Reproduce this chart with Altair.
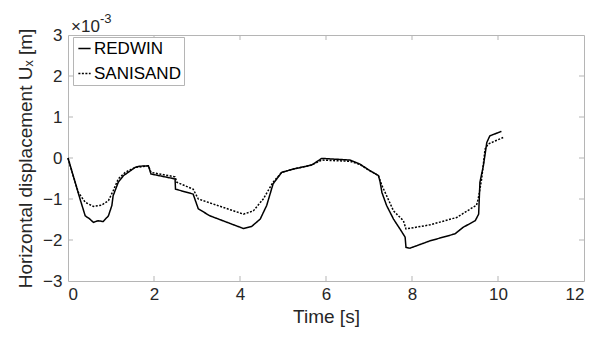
import altair as alt
import pandas as pd

# Time [s] and displacement (x 1e-3 m)
red_t = [0.0, 0.28, 0.40, 0.51, 0.59, 0.70, 0.82, 0.94, 1.02, 1.05, 1.17, 1.29, 1.40, 1.56, 1.67, 1.87, 1.93,
         2.49, 2.50, 2.91, 3.03, 3.30, 4.08, 4.27, 4.47, 4.62, 4.77, 4.97, 5.24, 5.67, 5.90, 6.56, 6.79,
         7.02, 7.22, 7.26, 7.30, 7.41, 7.57, 7.72, 7.84, 7.86, 7.95, 8.42, 9.00, 9.19, 9.47, 9.55, 9.58,
         9.66, 9.74, 9.81, 10.08]
red_y = [0.0, -1.00, -1.41, -1.49, -1.57, -1.53, -1.55, -1.41, -1.16, -0.92, -0.59, -0.43, -0.35, -0.23, -0.20, -0.19, -0.39,
         -0.51, -0.76, -0.88, -1.24, -1.41, -1.72, -1.67, -1.49, -1.16, -0.63, -0.35, -0.27, -0.17, -0.01, -0.05, -0.15,
         -0.31, -0.43, -0.59, -0.84, -1.16, -1.49, -1.73, -1.93, -2.18, -2.20, -2.02, -1.85, -1.69, -1.53, -1.37, -0.59,
         -0.19, 0.38, 0.54, 0.65]

san_t = [0.0, 0.12, 0.24, 0.40, 0.59, 0.78, 0.94, 1.05, 1.17, 1.33, 1.56, 1.87, 1.93, 2.49, 2.53, 2.91, 3.03,
         4.08, 4.31, 4.54, 4.77, 4.97, 5.24, 5.67, 5.90, 6.56, 6.79, 7.02, 7.22, 7.30, 7.41, 7.57, 7.80, 7.86,
         8.42, 9.04, 9.50, 9.54, 9.62, 9.70, 9.77, 10.12]
san_y = [0.0, -0.43, -0.84, -1.08, -1.18, -1.15, -1.04, -0.80, -0.51, -0.35, -0.23, -0.19, -0.35, -0.46, -0.59, -0.76, -1.00,
         -1.37, -1.29, -1.00, -0.59, -0.35, -0.27, -0.17, -0.05, -0.08, -0.16, -0.31, -0.43, -0.67, -0.92, -1.29, -1.53, -1.73,
         -1.63, -1.45, -1.15, -1.00, -0.51, 0.22, 0.34, 0.50]

x_ticks = [0, 2, 4, 6, 8, 10, 12]
y_ticks = [-3, -2, -1, 0, 1, 2, 3]
series = ["REDWIN", "SANISAND"]

rows = []
for t, v in zip(red_t, red_y):
    rows.append({"t": t, "u": v, "model": series[0]})
for t, v in zip(san_t, san_y):
    rows.append({"t": t, "u": v, "model": series[1]})
df = pd.DataFrame(rows)

W, H = 516, 246
FONT = "Liberation Sans"
GREY = "#b5b5b5"
TXT = "#262626"

xs = alt.Scale(domain=[0, 12], nice=False)
ys = alt.Scale(domain=[-3, 3], nice=False)

lines = alt.Chart(df).mark_line(strokeWidth=1.5, color="black").encode(
    x=alt.X("t:Q", scale=xs, axis=alt.Axis(values=x_ticks, title="Time [s]", grid=False, ticks=False,
                                            domain=False, labelPadding=5, titlePadding=5)),
    y=alt.Y("u:Q", scale=ys, axis=alt.Axis(values=y_ticks, title="Horizontal displacement Uₓ [m]", grid=False,
                                            ticks=False, domain=False, labelPadding=6, titlePadding=7)),
    strokeDash=alt.StrokeDash("model:N", scale=alt.Scale(domain=series, range=[[1, 0], [2, 1.5]]),
                              legend=alt.Legend(title=None, orient="none", legendX=5, legendY=2,
                                                symbolType="stroke", symbolStrokeColor="black",
                                                symbolSize=150, symbolStrokeWidth=1.3,
                                                labelFontSize=17, labelFont=FONT, labelColor="black",
                                                labelOffset=1, rowPadding=7,
                                                strokeColor=GREY, fillColor="white", padding=3)),
    detail="model:N",
)

xt = pd.DataFrame({"v": x_ticks[1:-1]})
yt = pd.DataFrame({"v": y_ticks[1:-1]})
tick_bot = alt.Chart(xt).mark_rule(color=GREY).encode(x=alt.X("v:Q", scale=xs), y=alt.value(H), y2=alt.value(H - 5))
tick_top = alt.Chart(xt).mark_rule(color=GREY).encode(x=alt.X("v:Q", scale=xs), y=alt.value(0), y2=alt.value(5))
tick_left = alt.Chart(yt).mark_rule(color=GREY).encode(y=alt.Y("v:Q", scale=ys), x=alt.value(0), x2=alt.value(5))
tick_right = alt.Chart(yt).mark_rule(color=GREY).encode(y=alt.Y("v:Q", scale=ys), x=alt.value(W), x2=alt.value(W - 5))

exp_base = alt.Chart(pd.DataFrame({"s": ["×10"]})).mark_text(
    align="left", baseline="alphabetic", fontSize=17, font=FONT, color=TXT
).encode(x=alt.value(3), y=alt.value(-3), text="s:N")
exp_pow = alt.Chart(pd.DataFrame({"s": ["-3"]})).mark_text(
    align="left", baseline="alphabetic", fontSize=13, font=FONT, color=TXT
).encode(x=alt.value(32), y=alt.value(-12), text="s:N")

chart = alt.layer(tick_bot, tick_top, tick_left, tick_right, lines, exp_base, exp_pow).properties(
    width=W, height=H,
    background="white",
    autosize=alt.AutoSizeParams(type="none"),
    padding={"left": 60, "top": 27, "right": 12, "bottom": 49},
).configure_view(stroke=GREY, strokeWidth=1).configure_axis(
    labelFont=FONT, titleFont=FONT, labelFontSize=17, titleFontSize=19,
    labelColor=TXT, titleColor=TXT, titleFontWeight="normal",
)

chart.save("out.html", embed_options={"renderer": "svg", "actions": False})
